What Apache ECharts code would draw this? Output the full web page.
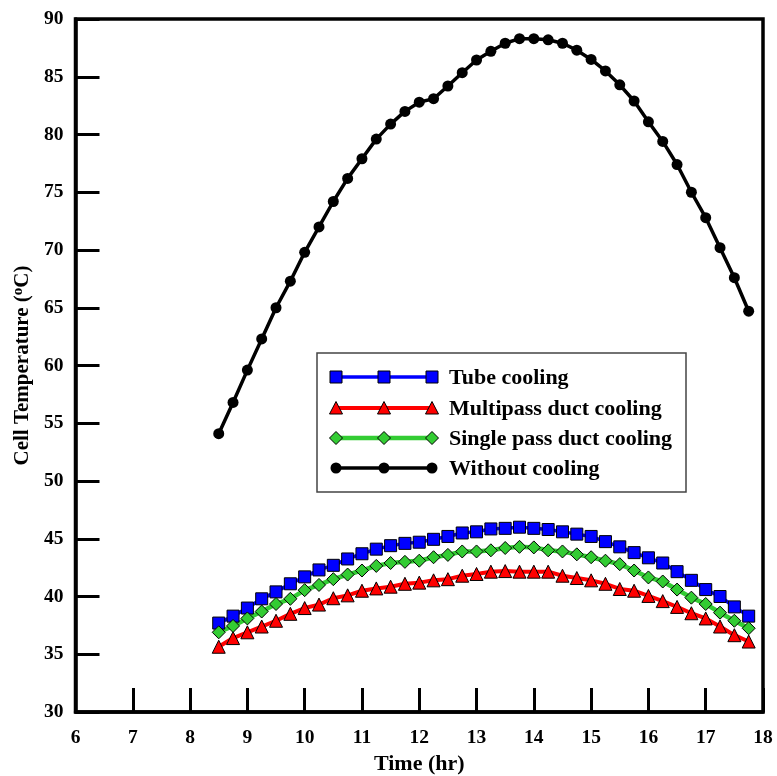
<!DOCTYPE html>
<html>
<head>
<meta charset="utf-8">
<title>Cell Temperature vs Time</title>
<script src="https://cdn.jsdelivr.net/npm/echarts@6/dist/echarts.min.js"></script>
<style>
  html, body { margin: 0; padding: 0; background: #fff; }
  #chart { width: 777px; height: 776px; }
</style>
</head>
<body>
<div id="chart"></div>
<script>
// Time of day (hr)
const hours = [8.5, 8.75, 9.0, 9.25, 9.5, 9.75, 10.0, 10.25, 10.5, 10.75,
  11.0, 11.25, 11.5, 11.75, 12.0, 12.25, 12.5, 12.75, 13.0, 13.25,
  13.5, 13.75, 14.0, 14.25, 14.5, 14.75, 15.0, 15.25, 15.5, 15.75,
  16.0, 16.25, 16.5, 16.75, 17.0, 17.25, 17.5, 17.75];

// Cell temperature (°C) per cooling configuration
const tubeCooling = [37.7, 38.3, 39.0, 39.8, 40.4, 41.1, 41.7, 42.3, 42.7, 43.25,
  43.7, 44.1, 44.4, 44.6, 44.7, 44.95, 45.2, 45.5, 45.6, 45.85,
  45.9, 46.0, 45.9, 45.8, 45.6, 45.4, 45.2, 44.75, 44.3, 43.8,
  43.35, 42.9, 42.15, 41.4, 40.6, 40.0, 39.1, 38.3];

const multipassDuct = [35.65, 36.4, 36.9, 37.4, 37.9, 38.5, 39.0, 39.3, 39.85, 40.1,
  40.5, 40.7, 40.85, 41.1, 41.2, 41.4, 41.5, 41.8, 41.95, 42.15,
  42.2, 42.15, 42.15, 42.15, 41.8, 41.6, 41.4, 41.1, 40.65, 40.5,
  40.05, 39.6, 39.1, 38.55, 38.1, 37.4, 36.65, 36.1];

const singlePassDuct = [36.9, 37.45, 38.1, 38.7, 39.35, 39.8, 40.55, 41.0, 41.5, 41.9,
  42.25, 42.65, 42.9, 43.0, 43.1, 43.4, 43.6, 43.9, 43.9, 44.0,
  44.2, 44.3, 44.25, 44.0, 43.9, 43.65, 43.4, 43.1, 42.8, 42.25,
  41.65, 41.3, 40.6, 39.9, 39.35, 38.6, 37.9, 37.25];

const withoutCooling = [54.1, 56.8, 59.6, 62.3, 65.0, 67.3, 69.8, 72.0, 74.2, 76.2,
  77.9, 79.6, 80.9, 82.0, 82.8, 83.1, 84.2, 85.35, 86.45, 87.2,
  87.9, 88.3, 88.3, 88.2, 87.9, 87.3, 86.5, 85.5, 84.3, 82.9,
  81.1, 79.4, 77.4, 75.0, 72.8, 70.2, 67.6, 64.7];

const seriesNames = ['Tube cooling', 'Multipass duct cooling',
  'Single pass duct cooling', 'Without cooling'];

const FONT = '"Liberation Serif", "Times New Roman", serif';

const pair = (ys) => hours.map((h, i) => [h, ys[i]]);

const styles = [
  { data: tubeCooling,    color: '#0000ff', lineWidth: 3.5, symbol: 'rect',     size: 12 },
  { data: multipassDuct,  color: '#ff0000', lineWidth: 4,   symbol: 'triangle', size: 13 },
  { data: singlePassDuct, color: '#33cc33', lineWidth: 4.5, symbol: 'diamond',  size: 13 },
  { data: withoutCooling, color: '#000000', lineWidth: 3.5, symbol: 'circle',   size: 11 }
];

const series = styles.map((s, k) => ({
  name: seriesNames[k],
  type: 'line',
  data: pair(s.data),
  symbol: s.symbol,
  symbolSize: s.size,
  showAllSymbol: true,
  lineStyle: { color: s.color, width: s.lineWidth },
  itemStyle: { color: s.color, borderColor: '#000', borderWidth: s.symbol === 'circle' ? 0 : 1 },
  emphasis: { disabled: true },
  animation: false
}));

// Legend box drawn with graphic primitives (line with three markers per row)
const legendBox = { left: 317, top: 353, width: 369, height: 139 };
const rowY = [377, 408, 438, 468];
const lineX0 = 336, lineX1 = 432, textX = 449;

function marker(kind, cx, cy, color) {
  const st = { fill: color, stroke: '#000', lineWidth: 1 };
  if (kind === 'rect') {
    return { type: 'rect', shape: { x: cx - 6, y: cy - 6, width: 12, height: 12 }, style: st };
  }
  if (kind === 'triangle') {
    return { type: 'polygon', shape: { points: [[cx, cy - 6.5], [cx + 6.5, cy + 6], [cx - 6.5, cy + 6]] }, style: st };
  }
  if (kind === 'diamond') {
    return { type: 'polygon', shape: { points: [[cx, cy - 6.5], [cx + 6.5, cy], [cx, cy + 6.5], [cx - 6.5, cy]] }, style: st };
  }
  return { type: 'circle', shape: { cx: cx, cy: cy, r: 5.5 }, style: { fill: color } };
}

const legendElements = [{
  type: 'rect',
  shape: { x: legendBox.left, y: legendBox.top, width: legendBox.width, height: legendBox.height },
  style: { fill: '#fff', stroke: '#444', lineWidth: 1.5 },
  z: 100
}];
styles.forEach((s, k) => {
  const y = rowY[k];
  legendElements.push({
    type: 'line',
    shape: { x1: lineX0, y1: y, x2: lineX1, y2: y },
    style: { stroke: s.color, lineWidth: s.lineWidth },
    z: 101
  });
  [lineX0, (lineX0 + lineX1) / 2, lineX1].forEach(x => {
    const m = marker(s.symbol, x, y, s.color);
    m.z = 102;
    legendElements.push(m);
  });
  legendElements.push({
    type: 'text',
    x: textX, y: y + 1,
    style: {
      text: seriesNames[k], fill: '#000', font: 'bold 22px ' + FONT,
      textVerticalAlign: 'middle', verticalAlign: 'middle', align: 'left'
    },
    z: 102
  });
});

const axisLabelStyle = { color: '#000', fontFamily: FONT, fontWeight: 'bold', fontSize: 19.5 };

const option = {
  backgroundColor: '#fff',
  animation: false,
  grid: {
    left: 75.5, right: 14, top: 19, bottom: 64,
    outerBoundsMode: 'none', containLabel: false,
    show: true, borderColor: '#000', borderWidth: 3.5, backgroundColor: 'transparent'
  },
  xAxis: {
    type: 'value', min: 6, max: 18, interval: 1,
    name: 'Time (hr)', nameLocation: 'middle', nameGap: 39,
    nameTextStyle: { color: '#000', fontFamily: FONT, fontWeight: 'bold', fontSize: 22 },
    axisLine: { show: true, onZero: false, lineStyle: { color: '#000', width: 3.5 } },
    axisTick: { show: true, inside: true, length: 24, lineStyle: { color: '#000', width: 3 } },
    axisLabel: Object.assign({ margin: 16 }, axisLabelStyle),
    splitLine: { show: false }
  },
  yAxis: {
    type: 'value', min: 30, max: 90, interval: 5,
    name: '{t|Cell Temperature (}{s|o}{t|C)}', nameLocation: 'middle', nameGap: 39,
    nameTextStyle: {
      color: '#000', fontFamily: FONT, fontWeight: 'bold', fontSize: 21,
      rich: {
        t: { fontFamily: FONT, fontWeight: 'bold', fontSize: 21, lineHeight: 23, color: '#000' },
        s: { fontFamily: FONT, fontWeight: 'bold', fontSize: 15, lineHeight: 23, verticalAlign: 'top', color: '#000' }
      }
    },
    axisLine: { show: true, onZero: false, lineStyle: { color: '#000', width: 3.5 } },
    axisTick: { show: true, inside: true, length: 24, lineStyle: { color: '#000', width: 3 } },
    axisLabel: Object.assign({ margin: 12 }, axisLabelStyle),
    splitLine: { show: false }
  },
  graphic: legendElements,
  series: series
};

const chart = echarts.init(document.getElementById('chart'), null, { renderer: 'canvas' });
chart.setOption(option);
</script>
</body>
</html>
